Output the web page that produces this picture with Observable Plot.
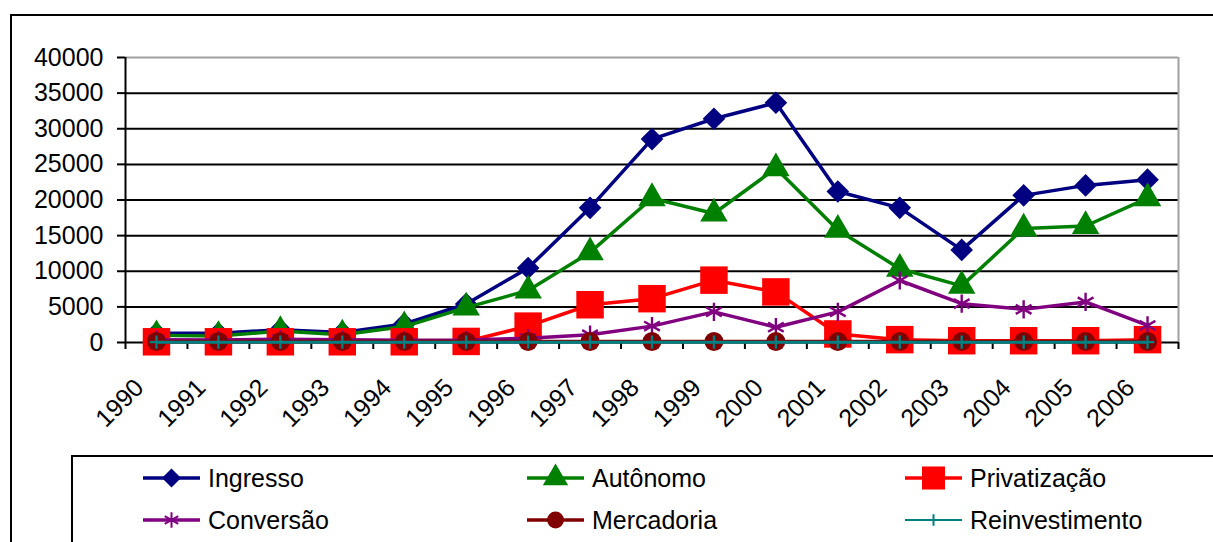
<!DOCTYPE html>
<html><head><meta charset="utf-8">
<script src="https://cdn.jsdelivr.net/npm/d3@7"></script>
<script src="https://cdn.jsdelivr.net/npm/@observablehq/plot@0.6"></script>
<style>
body{margin:0;background:#fff;overflow:hidden;font-family:Arial,"Liberation Sans",sans-serif;}
#wrap{position:relative;width:1213px;height:542px;overflow:hidden;background:#fff;}
#frame{position:absolute;left:10px;top:14px;width:1240px;height:580px;border:2px solid #000;box-sizing:border-box;}
#chart{position:absolute;left:0;top:0;}
#legendbox{position:absolute;left:71px;top:455px;width:1200px;height:140px;border:2px solid #000;box-sizing:border-box;background:#fff;}
#legend{position:absolute;left:0;top:0;}
</style></head><body>
<div id="wrap"><div id="frame"></div><div id="chart"></div><div id="legendbox"></div><svg id="legend" width="1213" height="542"></svg></div>
<script>
const years = [1990,1991,1992,1993,1994,1995,1996,1997,1998,1999,2000,2001,2002,2003,2004,2005,2006];
const ingresso       = [1300,1300,1800,1400,2600,5400,10450,18900,28550,31400,33650,21200,18900,13000,20650,22050,22850];
const autonomo       = [1000,900,1600,1100,2250,4900,7300,12650,20250,18100,24450,15800,10350,7950,16000,16350,20250];
const privatizacao   = [100,100,100,100,100,150,2300,5300,6150,8750,7100,1200,400,250,250,250,400];
const conversao      = [400,350,450,400,300,350,600,1100,2300,4300,2150,4300,8700,5450,4650,5700,2400];
const mercadoria     = [150,150,150,150,150,150,150,150,150,150,150,150,150,150,150,150,150];
const reinvestimento = [50,50,50,50,50,50,50,50,50,50,50,50,50,50,50,50,50];
const seriesNames = ["Ingresso","Autônomo","Privatização","Conversão","Mercadoria","Reinvestimento"];
const yTicks = [0,5000,10000,15000,20000,25000,30000,35000,40000];
const gridTicks = [5000,10000,15000,20000,25000,30000,35000];
const boundaries = [1989.5,1990.5,1991.5,1992.5,1993.5,1994.5,1995.5,1996.5,1997.5,1998.5,1999.5,2000.5,2001.5,2002.5,2003.5,2004.5,2005.5,2006.5];

const seriesValues = [ingresso, autonomo, privatizacao, conversao, mercadoria, reinvestimento];
const styles = [
  {color:"#000080", symbol:"diamond2", r:10.2, filled:true, sw:3.5},
  {color:"#008000", symbol:"triangle", r:10.2, filled:true, sw:3.5},
  {color:"#ff0000", symbol:"square", r:15.5, filled:true, sw:3.5},
  {color:"#800080", symbol:"asterisk", r:8.6, filled:false, sw:3.5},
  {color:"#800000", symbol:"circle", r:9.5, filled:true, sw:3.5},
  {color:"#008080", symbol:"plus", r:4.4, filled:false, sw:3}
];

const seriesMarks = [];
seriesNames.forEach((name, i) => {
  const data = years.map((y, j) => ({year: y, value: seriesValues[i][j], series: name}));
  const s = styles[i];
  seriesMarks.push(Plot.line(data, {x:"year", y:"value", stroke:s.color, strokeWidth:s.sw}));
  seriesMarks.push(Plot.dot(data, s.filled
    ? {x:"year", y:"value", symbol:()=>s.symbol, r:s.r, fill:s.color, stroke:"none"}
    : {x:"year", y:"value", symbol:()=>s.symbol, r:s.r, fill:"none", stroke:s.color, strokeWidth:2.4}));
});

const chart = Plot.plot({
  width: 1213, height: 450,
  marginLeft: 125, marginRight: 35, marginTop: 57, marginBottom: 108,
  style: {fontFamily: "Arial, 'Liberation Sans', sans-serif", fontSize: "25px", color: "#000", background: "transparent"},
  x: {type: "linear", domain: [1989.5, 2006.5], axis: null},
  y: {type: "linear", domain: [0, 40000], axis: null},
  symbol: {type: "identity"},
  marks: [
    Plot.ruleY(gridTicks, {stroke:"#000", strokeWidth:2}),
    Plot.ruleY([40000], {stroke:"#a0a0a0", strokeWidth:2}),
    Plot.ruleX([2006.5], {stroke:"#a0a0a0", strokeWidth:2}),
    Plot.axisY({ticks: yTicks, label: null, tickSize: 8, tickPadding: 14, strokeWidth: 2, fontSize: 25, tickFormat: d => String(d)}),
    Plot.axisX({ticks: boundaries, label: null, tickSize: 7, strokeWidth: 2, tickFormat: () => ""}),
    Plot.text(years, {x: d => d, frameAnchor: "bottom", dy: 41, dx: -17, rotate: -45, textAnchor: "end", lineAnchor: "middle", fontSize: 25, text: d => String(d)}),
    Plot.ruleX([1989.5], {stroke:"#000", strokeWidth:2}),
    Plot.ruleY([0], {stroke:"#000", strokeWidth:2}),
    ...seriesMarks
  ]
});
document.getElementById("chart").appendChild(chart);

// Legend
const lg = d3.select("#legend");
const colStarts = [143, 527, 905];
const rowYs = [478, 520];
const symMap = {diamond2: d3.symbolDiamond2, triangle: d3.symbolTriangle, square: d3.symbolSquare, asterisk: d3.symbolAsterisk, circle: d3.symbolCircle, plus: d3.symbolPlus};
const legR = [8.6, 9.4, 13.0, 7.4, 8.4, 3.8];
seriesNames.forEach((name, i) => {
  const s = styles[i];
  const x0 = colStarts[i % 3], y0 = rowYs[Math.floor(i / 3)];
  lg.append("line").attr("x1", x0).attr("x2", x0 + 57).attr("y1", y0).attr("y2", y0)
    .attr("stroke", s.color).attr("stroke-width", i === 5 ? 2 : 3.5);
  const path = d3.symbol(symMap[s.symbol], legR[i] * legR[i] * Math.PI)();
  const p = lg.append("path").attr("d", path).attr("transform", `translate(${x0 + 28.5},${y0})`);
  if (s.filled) p.attr("fill", s.color); else p.attr("fill", "none").attr("stroke", s.color).attr("stroke-width", 2);
  lg.append("text").attr("x", x0 + 65).attr("y", y0).attr("dy", "0.35em")
    .attr("font-family", "Arial, 'Liberation Sans', sans-serif").attr("font-size", 25).attr("fill", "#000").text(name);
});
</script>
</body></html>
